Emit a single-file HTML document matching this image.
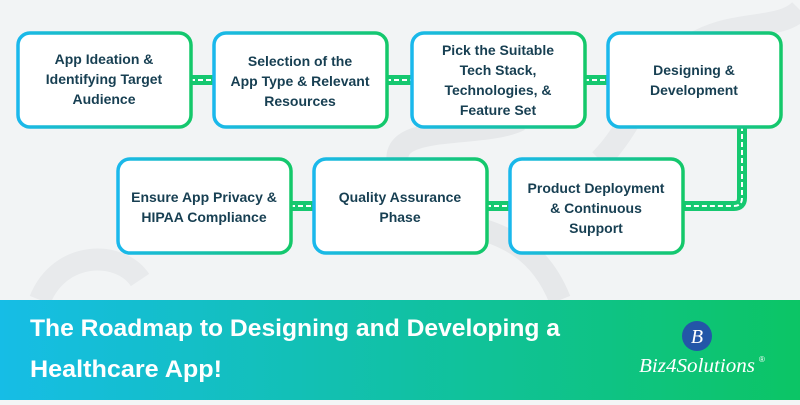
<!DOCTYPE html>
<html><head><meta charset="utf-8"><style>
body{margin:0;width:800px;height:400px;overflow:hidden;font-family:"Liberation Sans",sans-serif;background:#f3f5f6}
</style></head><body>
<svg width="800" height="400" viewBox="0 0 800 400" xmlns="http://www.w3.org/2000/svg">
<defs>
<linearGradient id="bd" x1="0" x2="1" y1="0" y2="0"><stop offset="0" stop-color="#1ab8ec"/><stop offset="1" stop-color="#14c86a"/></linearGradient>
<linearGradient id="bn" x1="0" x2="1"><stop offset="0" stop-color="#16bde6"/><stop offset="1" stop-color="#0cc565"/></linearGradient>
</defs>
<rect width="800" height="300" fill="#f2f4f5"/>
<path d="M560 300 C520 200 430 250 400 170 C380 120 480 140 520 120" stroke="#e6e8ea" stroke-width="22" fill="none"/>
<path d="M600 160 C640 120 650 60 700 40 C740 20 780 30 800 10" stroke="#e8eaec" stroke-width="22" fill="none"/>
<path d="M40 300 C60 250 120 250 140 280" stroke="#e8eaec" stroke-width="22" fill="none"/>
<g stroke="#16c870" stroke-width="10" fill="none">
<path d="M190 80H216M386 80H414M584 80H610"/>
<path d="M742 126V198Q742 206 734 206H682"/>
<path d="M290 206H316M486 206H512"/>
</g>
<g stroke="#fff" stroke-width="2" stroke-dasharray="5 3" fill="none">
<path d="M190 80H216M386 80H414M584 80H610"/>
<path d="M742 126V198Q742 206 734 206H682"/>
<path d="M290 206H316M486 206H512"/>
</g>
<g fill="#fff" stroke="url(#bd)" stroke-width="3.5">
<rect x="18" y="33" width="173" height="94" rx="12"/>
<rect x="214" y="33" width="173" height="94" rx="12"/>
<rect x="412" y="33" width="173" height="94" rx="12"/>
<rect x="608" y="33" width="173" height="94" rx="12"/>
<rect x="118" y="159" width="173" height="94" rx="12"/>
<rect x="314" y="159" width="173" height="94" rx="12"/>
<rect x="510" y="159" width="173" height="94" rx="12"/>
</g>
<g fill="#173f52" font-size="14" font-weight="bold" text-anchor="middle">
<text x="104" y="64">App Ideation &amp;</text><text x="104" y="84">Identifying Target</text><text x="104" y="104">Audience</text>
<text x="300" y="66">Selection of the</text><text x="300" y="86">App Type &amp; Relevant</text><text x="300" y="106">Resources</text>
<text x="498" y="55">Pick the Suitable</text><text x="498" y="75">Tech Stack,</text><text x="498" y="95">Technologies, &amp;</text><text x="498" y="115">Feature Set</text>
<text x="694" y="75">Designing &amp;</text><text x="694" y="95">Development</text>
<text x="204" y="202">Ensure App Privacy &amp;</text><text x="204" y="222">HIPAA Compliance</text>
<text x="400" y="202">Quality Assurance</text><text x="400" y="222">Phase</text>
<text x="596" y="193">Product Deployment</text><text x="596" y="213">&amp; Continuous</text><text x="596" y="233">Support</text>
</g>
<rect y="300" width="800" height="100" fill="url(#bn)"/>
<g fill="#fff" font-size="24" font-weight="bold">
<text x="30" y="336" textLength="530" lengthAdjust="spacingAndGlyphs">The Roadmap to Designing and Developing a</text>
<text x="30" y="377" textLength="192" lengthAdjust="spacingAndGlyphs">Healthcare App!</text>
</g>
<circle cx="697" cy="336" r="15" fill="#2356a8"/>
<text x="697" y="343" fill="#fff" font-size="20" font-style="italic" font-family="Liberation Serif,serif" text-anchor="middle">B</text>
<text x="697" y="372" fill="#fff" font-size="20" font-style="italic" font-family="Liberation Serif,serif" text-anchor="middle" textLength="116" lengthAdjust="spacingAndGlyphs">Biz4Solutions</text>
<text x="759" y="362" fill="#fff" font-size="8">®</text>
</svg>
</body></html>
